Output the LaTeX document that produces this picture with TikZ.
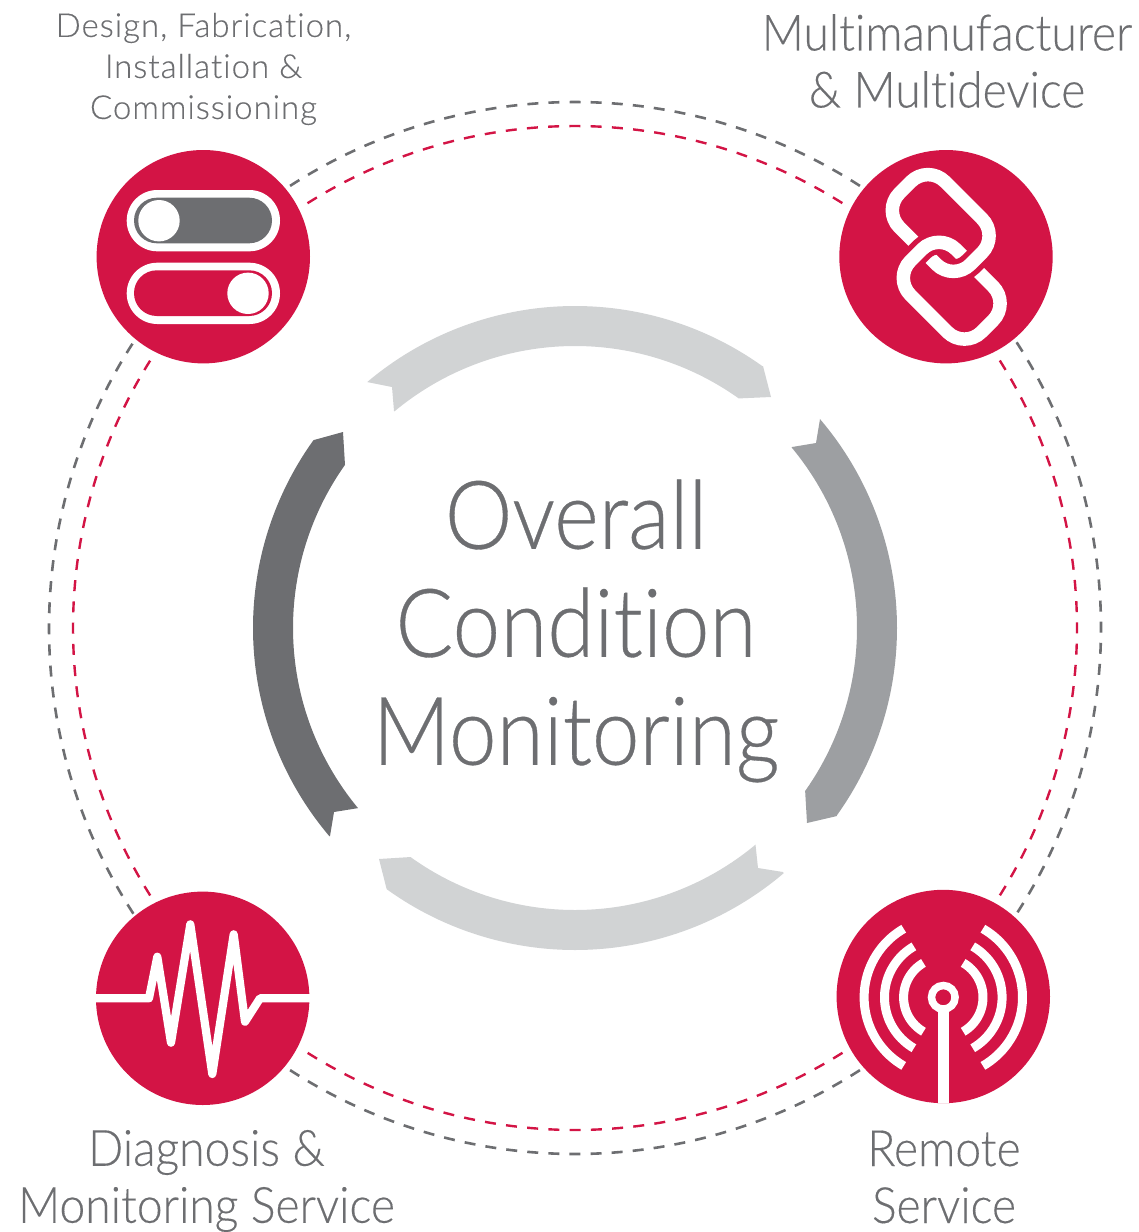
\documentclass[tikz,border=0pt]{standalone}
\usepackage{fontspec}
\setmainfont{Lato}
\newfontfamily\bigfont[FakeStretch=0.9,FakeBold=0.35,Ligatures=NoCommon]{Lato Light}
\newfontfamily\midfont[FakeStretch=0.925,FakeBold=0.25,Ligatures=NoCommon]{Lato Light}
\newfontfamily\smallfont[LetterSpace=3.0,FakeStretch=1.0,FakeBold=0.25,Ligatures=NoCommon]{Lato Light}
\definecolor{brandred}{HTML}{D31445}
\definecolor{darkgrey}{HTML}{6D6E71}
\definecolor{midgrey}{HTML}{9D9FA2}
\definecolor{lightgrey}{HTML}{D1D3D4}
\newcommand\ringarc[3]{plot[domain=#1:#2,samples=240] ({575+#3*cos(\x)},{628-#3*sin(\x)})}
\newcommand\toringarc[3]{-- plot[domain=#1:#2,samples=240] ({575+#3*cos(\x)},{628-#3*sin(\x)})}
\newcommand\wifiarc[3]{plot[domain=#1:#2,samples=40] ({943.3+#3*cos(\x)},{997.3-#3*sin(\x)})}
\tikzset{
  badge/.style={circle,fill=brandred,draw=none,minimum size=213.4pt,inner sep=0pt},
  greydash/.style={draw=darkgrey,line width=2.6pt,dash pattern=on 11pt off 10.12pt},
  reddash/.style={draw=brandred,line width=2.4pt,dash pattern=on 11pt off 10.27pt},
  iconline/.style={draw=white,line width=8.2pt,line join=round},
  link/.style={draw=white,line width=13.5pt,rounded corners=24pt},
  linkhalo/.style={draw=brandred,line width=24pt,rounded corners=24pt},
  smalllabel/.style={align=center,text=darkgrey,inner sep=0pt,font=\smallfont\fontsize{33}{41}\selectfont},
  midlabel/.style={align=center,text=darkgrey,inner sep=0pt,font=\midfont\fontsize{50}{57}\selectfont},
  biglabel/.style={align=center,text=darkgrey,inner sep=0pt,font=\bigfont\fontsize{95}{108}\selectfont}
}
\begin{document}
\begin{tikzpicture}[x=1pt,y=-1pt]
\useasboundingbox (0,0) rectangle (1139,1232);
% dashed rings
\draw[greydash] \ringarc{122.8}{57.2}{526};
\draw[greydash] \ringarc{32.9}{-32.9}{526};
\draw[greydash] \ringarc{-57.2}{-122.8}{526};
\draw[greydash] \ringarc{212.9}{147.1}{526};
\draw[reddash] \ringarc{122.2}{57.8}{502};
\draw[reddash] \ringarc{32.2}{-32.2}{502};
\draw[reddash] \ringarc{-57.8}{-122.2}{502};
\draw[reddash] \ringarc{212.2}{147.8}{502};
% central arrows
\fill[lightgrey] (367,382) -- (392,387) -- (394,411) \toringarc{129.8}{54.5}{282} -- (771,397) -- (763,366) \toringarc{54.3}{130.2}{322} -- cycle;
\fill[darkgrey] (343,432) -- (345,465) \toringarc{144.7}{219.7}{282} -- (334,812) -- (330,836) \toringarc{220.3}{144.3}{322} -- cycle;
\fill[lightgrey] (379,859) -- (411,857) \toringarc{234.4}{309.8}{282} -- (758,868) -- (783,872) \toringarc{310.4}{234.2}{322} -- cycle;
\fill[midgrey] (820,419) -- (816,443) -- (792,447) \toringarc{39.8}{-35.3}{282} -- (807,823) -- (837,816) \toringarc{-35.7}{40.5}{322} -- cycle;
% badges
\node[badge] (tl) at (203.3,256.7) {};
\node[badge] (tr) at (946,256.7) {};
\node[badge] (bl) at (202.7,998.3) {};
\node[badge] (br) at (943.3,996.5) {};
% toggles
\fill[white,rounded corners=30.6pt] (126.7,190) rectangle (280,251.3);
\fill[darkgrey,rounded corners=22.8pt] (134,197.7) rectangle (272,243.3);
\fill[white] (159,220.7) circle[radius=20.7];
\fill[white,rounded corners=30.6pt] (126.7,262.7) rectangle (280,324);
\fill[brandred,rounded corners=22.8pt] (134,270.3) rectangle (272,316);
\fill[white] (248,293.3) circle[radius=20.7];
% chain
\begin{scope}[shift={(940.7,223)},rotate=-45]
\draw[link] (-50.25,-32.25) rectangle (50.25,32.25);
\end{scope}
\begin{scope}[shift={(951.7,290.7)},rotate=-45]
\draw[linkhalo] (-50.25,-32.25) rectangle (50.25,32.25);
\draw[link] (-50.25,-32.25) rectangle (50.25,32.25);
\end{scope}
\begin{scope}
\clip (952,150) rectangle (1060,360);
\begin{scope}[shift={(940.7,223)},rotate=-45]
\draw[linkhalo] (-50.25,-32.25) rectangle (50.25,32.25);
\draw[link] (-50.25,-32.25) rectangle (50.25,32.25);
\end{scope}
\end{scope}
% waveform
\draw[iconline] (96,998.3) -- (149,998.3) -- (157.3,956.7) -- (171,1042.7) -- (190.3,924.3) -- (212.3,1074) -- (233.7,934.3) -- (245,1021.7) -- (260,998.3) -- (310,998.3);
% antenna
\draw[draw=white,line width=7.5pt] (943.3,997.3) circle[radius=11.8];
\fill[white] (938.1,1009) rectangle (948.5,1103);
\foreach \r in {39.7,58.8,79.2}{
  \draw[draw=white,line width=9pt] \wifiarc{-60}{60}{\r};
  \draw[draw=white,line width=9pt] \wifiarc{120}{240}{\r};
}
% labels
\node[smalllabel] (t1) at (203.5,69) {Design, Fabrication,\\Installation \&\\Commissioning};
\node[midlabel] (t2) at (947,61) {Multimanufacturer\\\& Multidevice};
\node[midlabel] (t3) at (206.5,1181) {Diagnosis \&\\Monitoring Service};
\node[midlabel] (t4) at (944,1177) {Remote\\Service};
\node[biglabel] (t5) at (576,631) {Overall\\Condition\\Monitoring};
\end{tikzpicture}
\end{document}
